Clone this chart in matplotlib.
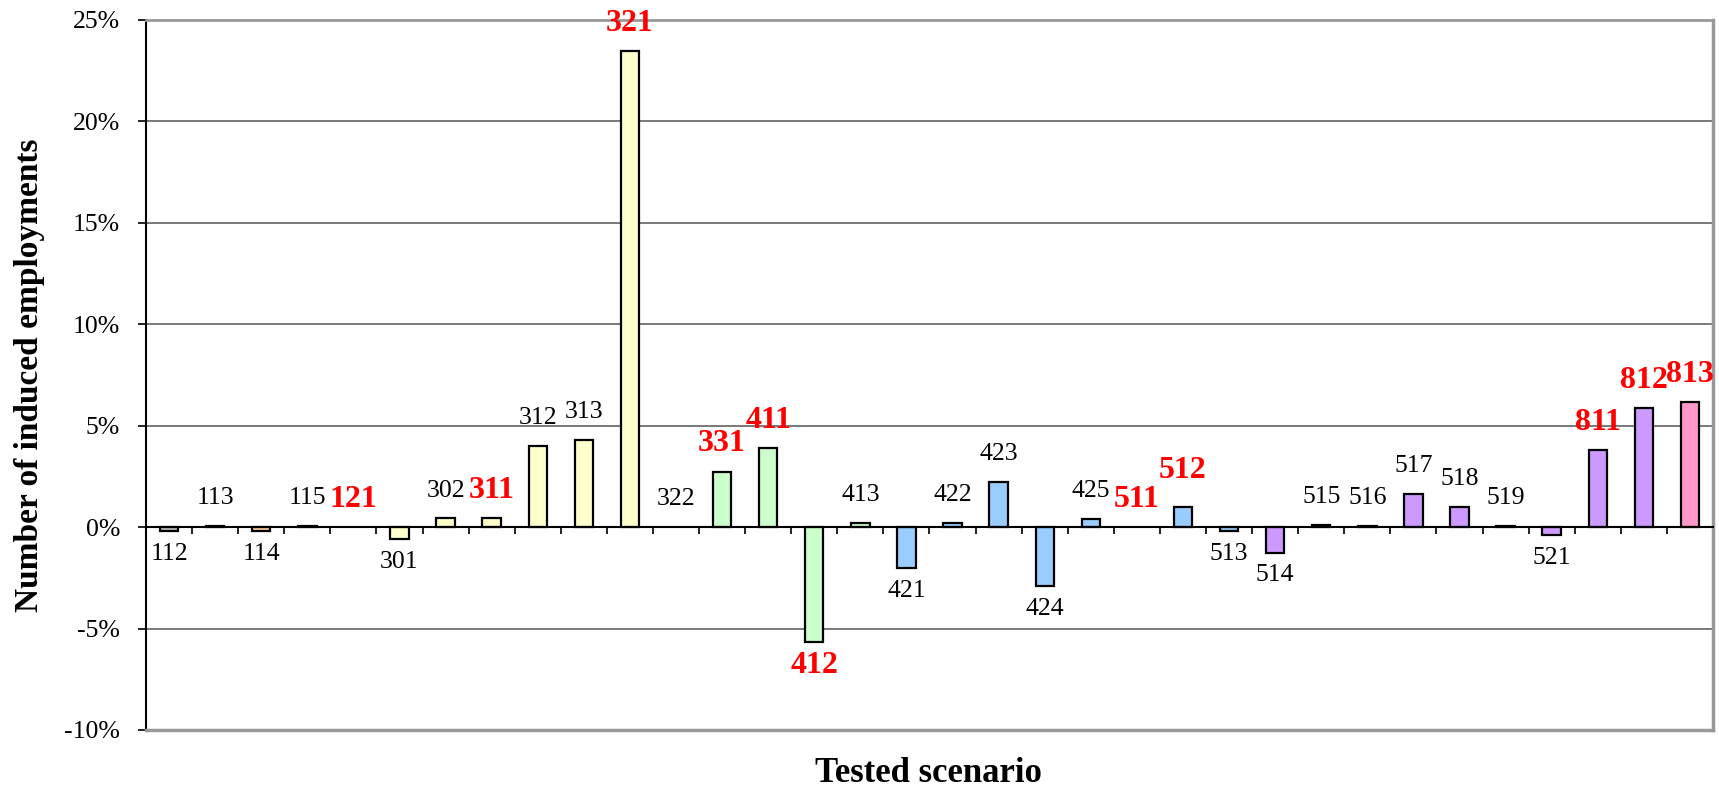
import numpy as np
import matplotlib
matplotlib.use('Agg')
import matplotlib.pyplot as plt
from matplotlib.ticker import FuncFormatter

# Times 風格字體
plt.rcParams['font.family'] = ['Liberation Serif', 'DejaVu Serif']

# 各情境代碼與誘發就業人數變化率 (%)
scenarios = ['112', '113', '114', '115', '121',
             '301', '302', '311', '312', '313', '321', '322', '331',
             '411', '412', '413', '421', '422', '423', '424', '425',
             '511', '512', '513', '514', '515', '516', '517', '518', '519', '521',
             '811', '812', '813']
values = [-0.18, 0.05, -0.18, 0.05, 0.0,
          -0.58, 0.43, 0.43, 4.0, 4.29, 23.47, 0.0, 2.73,
          3.9, -5.67, 0.21, -2.02, 0.21, 2.23, -2.89, 0.41,
          0.0, 0.99, -0.2, -1.25, 0.13, 0.05, 1.64, 0.99, 0.05, -0.38,
          3.78, 5.88, 6.16]
# 以紅色粗體標示的情境
highlight = ['121', '311', '321', '331', '411', '412', '511', '512', '811', '812', '813']
# 各組顏色
colors = ['#C0C0C0', '#C0C0C0', '#FFCC99', '#FFCC99', '#FFCC99',
          '#FFFFCC', '#FFFFCC', '#FFFFCC', '#FFFFCC', '#FFFFCC', '#FFFFCC', '#FFFFCC', '#CCFFCC',
          '#CCFFCC', '#CCFFCC', '#CCFFCC', '#99CCFF', '#99CCFF', '#99CCFF', '#99CCFF', '#99CCFF',
          '#99CCFF', '#99CCFF', '#99CCFF', '#CC99FF', '#CC99FF', '#CC99FF', '#CC99FF', '#CC99FF', '#CC99FF', '#CC99FF',
          '#CC99FF', '#CC99FF', '#FF99CC']
# 個別標籤的額外上移量 (points)
label_nudge = {'512': 6}

W, H = 1719, 792
fig = plt.figure(figsize=(W / 100, H / 100), dpi=100)
ax = fig.add_axes([146 / W, 62 / H, 1567 / W, 710 / H])

x = np.arange(len(scenarios))
edge_w = [0 if v == 0 else 1.6 for v in values]
ax.bar(x, values, width=0.4, color=colors, edgecolor='black', linewidth=edge_w, zorder=3)

ax.set_xlim(-0.5, len(scenarios) - 0.5)
ax.set_ylim(-10, 25)

# 在長條端點外側加上情境代碼
for i, (s, v) in enumerate(zip(scenarios, values)):
    off = 20 if v >= 0 else -16.5
    off += label_nudge.get(s, 0)
    if s in highlight:
        ax.annotate(s, (i, v), xytext=(0, off), textcoords='offset points',
                    ha='center', va='center', fontsize=23, fontweight='bold', color='#FF0000')
    else:
        ax.annotate(s, (i, v), xytext=(0, off), textcoords='offset points',
                    ha='center', va='center', fontsize=18.5, color='black')

# y 軸刻度與格線
ax.set_yticks(np.arange(-10, 26, 5))
ax.yaxis.set_major_formatter(FuncFormatter(lambda v, p: f'{v:.0f}%'))
ax.tick_params(axis='y', direction='out', length=5.8, width=1.2, pad=13, labelsize=18.5)
ax.yaxis.grid(True, color='#555555', linewidth=1.1)
ax.set_axisbelow(True)

# x 軸放在 0% 位置，刻度在類別之間
ax.spines['bottom'].set_position(('data', 0))
ax.spines['bottom'].set_linewidth(1.5)
ax.spines['bottom'].set_zorder(4)
ax.set_xticks(np.arange(-0.5, len(scenarios), 1))
ax.set_xticklabels([])
ax.tick_params(axis='x', direction='out', length=5, width=1.2)

ax.spines['left'].set_linewidth(1.5)
ax.spines['top'].set_color('#999999')
ax.spines['top'].set_linewidth(2)
ax.spines['right'].set_color('#999999')
ax.spines['right'].set_linewidth(2.5)
ax.axhline(-10, color='#999999', linewidth=2.5, clip_on=False, zorder=4)

ax.set_ylabel('Number of induced employments', fontsize=24, fontweight='bold', labelpad=14)
fig.text(928 / W, 1 - 773 / H, 'Tested scenario', fontsize=25, fontweight='bold',
         ha='center', va='center')

fig.savefig('out.png', dpi=100)
plt.close()
